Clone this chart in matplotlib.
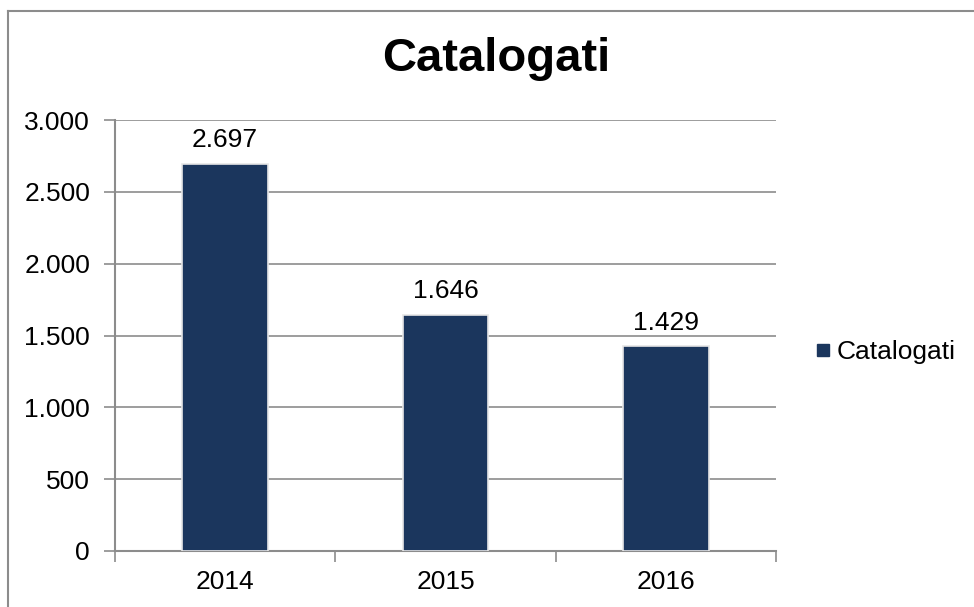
import matplotlib
matplotlib.use("Agg")
import matplotlib.pyplot as plt
from matplotlib.lines import Line2D
from matplotlib.ticker import FuncFormatter, FixedLocator
import numpy as np

plt.rcParams['font.family'] = ['Liberation Sans', 'DejaVu Sans']

years = ["2014", "2015", "2016"]
values = [2697, 1646, 1429]
series_name = "Catalogati"
title = "Catalogati"

bar_color = "#1B365D"
grid_color = "#8C8C8C"

fig = plt.figure(figsize=(9.74, 6.07), dpi=100)
ax = fig.add_axes([115/974, 56/607, 661/974, 431/607])

x = np.arange(len(years))
bars = ax.bar(x, values, width=0.39, color=bar_color, edgecolor="#E6E6E6",
              linewidth=1.2, zorder=3, label=series_name)

def fmt(v):
    return f"{int(round(v)):,}".replace(",", ".")

for xi, v in zip(x, values):
    ax.annotate(fmt(v), (xi, v), xytext=(0, 8), textcoords="offset points",
                ha="center", va="bottom", fontsize=19)

ax.set_xlim(-0.5, len(years) - 0.5)
ax.set_ylim(0, 3000)
ax.set_yticks(np.arange(0, 3001, 500))
ax.yaxis.set_major_formatter(FuncFormatter(lambda v, p: fmt(v)))
ax.set_xticks(x)
ax.set_xticklabels(years)
ax.xaxis.set_minor_locator(FixedLocator(np.arange(-0.5, len(years), 1.0)))
ax.tick_params(axis="x", which="major", length=0, pad=14, labelsize=19)
ax.tick_params(axis="x", which="minor", length=8, width=1.2, color=grid_color, direction="out")
ax.tick_params(axis="y", which="major", length=8, width=1.2, color=grid_color, pad=10, labelsize=19)

ax.grid(axis="y", color=grid_color, linewidth=1.2, zorder=0)
ax.set_axisbelow(True)
for s in ["top", "right"]:
    ax.spines[s].set_visible(False)
for s in ["left", "bottom"]:
    ax.spines[s].set_color(grid_color)
    ax.spines[s].set_linewidth(1.5)

fig.text(496/974, 1 - 59/607, title, ha="center", va="center", fontsize=34, fontweight="bold")

handle = Line2D([], [], marker="s", linestyle="none", markersize=9, markerfacecolor=bar_color,
                markeredgecolor=bar_color)
fig.legend([handle], [series_name], loc="center left", bbox_to_anchor=(797/974, 1 - 352/607),
           frameon=False, fontsize=19, handletextpad=0.0, handlelength=1.0, borderpad=0)

# outer border (top and left visible)
fig.add_artist(Line2D([8/974, 8/974], [0, 1 - 11/607], transform=fig.transFigure,
                      color="#8C8C8C", linewidth=1.5))
fig.add_artist(Line2D([8/974, 1], [1 - 11/607, 1 - 11/607], transform=fig.transFigure,
                      color="#8C8C8C", linewidth=1.5))

fig.savefig("out.png", dpi=100, facecolor="white")
